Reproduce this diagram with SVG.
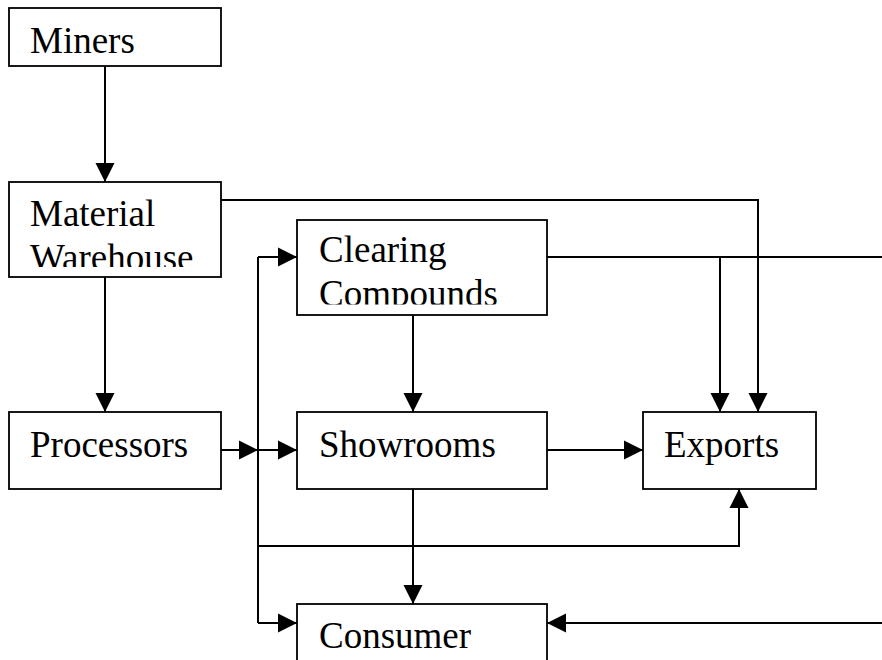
<svg xmlns="http://www.w3.org/2000/svg" width="882" height="660" viewBox="0 0 882 660">
<style>
.box{fill:#fff;stroke:#000;stroke-width:1.8}
.lbl{font-family:'Liberation Serif',serif;font-size:37px;fill:#000}
.ln{fill:none;stroke:#000;stroke-width:2}
.arr{marker-end:url(#ah)}
</style>
<defs>
<marker id="ah" markerUnits="userSpaceOnUse" markerWidth="20" markerHeight="20" refX="19" refY="9.5" orient="auto" viewBox="0 0 20 19">
<path d="M0,0 L19,9.5 L0,19 Z" fill="#000"/>
</marker>
<clipPath id="cw"><rect x="9" y="182" width="212" height="85"/></clipPath>
<clipPath id="cc"><rect x="297" y="220" width="250" height="84.5"/></clipPath>
</defs>
<rect width="882" height="660" fill="#fff"/>
<g id="connectors">
<path class="ln arr" d="M105,66 V182"/>
<path class="ln arr" d="M105,277 V412"/>
<path class="ln arr" d="M221,200 H758 V412"/>
<path class="ln" d="M547,257 H882"/>
<path class="ln arr" d="M720,257 V412"/>
<path class="ln arr" d="M882,623 H547"/>
<path class="ln arr" d="M413,315 V412"/>
<path class="ln arr" d="M221,450 H258"/>
<path class="ln arr" d="M258,450 H297"/>
<path class="ln" d="M258,257 V623"/>
<path class="ln arr" d="M258,257 H297"/>
<path class="ln arr" d="M258,623 H297"/>
<path class="ln arr" d="M258,546 H739 V489"/>
<path class="ln arr" d="M547,450 H643"/>
<path class="ln arr" d="M413,489 V604"/>
</g>
<g id="miners">
<rect class="box" x="9" y="8" width="212" height="58"/>
<text class="lbl" x="30" y="53" font-family="Liberation Serif, serif">Miners</text>
</g>
<g id="warehouse">
<rect class="box" x="9" y="182" width="212" height="95"/>
<g clip-path="url(#cw)">
<text class="lbl" x="30" y="226">Material</text>
<text class="lbl" x="30" y="270">Warehouse</text>
</g>
</g>
<g id="processors">
<rect class="box" x="9" y="412" width="212" height="77"/>
<text class="lbl" x="30" y="457">Processors</text>
</g>
<g id="clearing">
<rect class="box" x="297" y="220" width="250" height="95"/>
<g clip-path="url(#cc)">
<text class="lbl" x="319" y="262">Clearing</text>
<text class="lbl" x="319" y="306">Compounds</text>
</g>
</g>
<g id="showrooms">
<rect class="box" x="297" y="412" width="250" height="77"/>
<text class="lbl" x="319" y="457">Showrooms</text>
</g>
<g id="exports">
<rect class="box" x="643" y="412" width="173" height="77"/>
<text class="lbl" x="664" y="457">Exports</text>
</g>
<g id="consumer">
<rect class="box" x="297" y="604" width="250" height="70"/>
<text class="lbl" x="319" y="648">Consumer</text>
</g>
</svg>
